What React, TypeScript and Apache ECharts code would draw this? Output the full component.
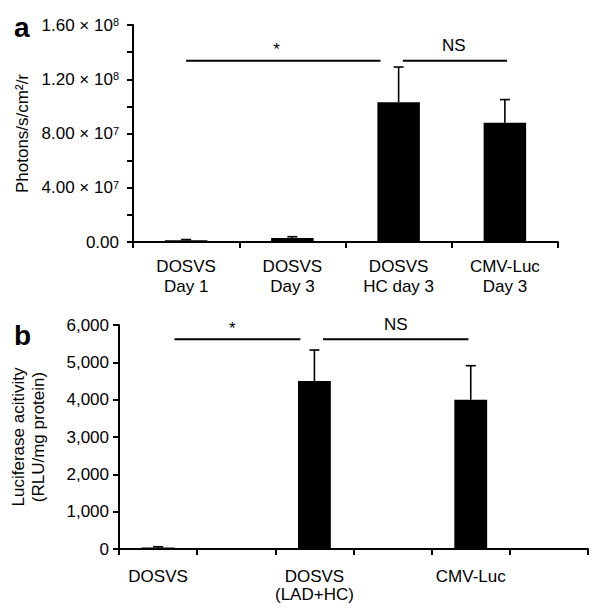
import React, { useEffect, useRef } from "react";
import * as echarts from "echarts";

const FONT = "Liberation Sans, Arial, Helvetica, sans-serif";

// Panel a
const aCategories = ["DOSVS\nDay 1", "DOSVS\nDay 3", "DOSVS\nHC day 3", "CMV-Luc\nDay 3"];
const aMeans = [1.2e6, 3.0e6, 1.03e8, 0.88e8];
const aErrTops = [1.8e6, 3.9e6, 1.29e8, 1.05e8];
const aTickValues = [0, 4e7, 8e7, 1.2e8, 1.6e8];
const aTickMantissa = ["0.00", "4.00", "8.00", "1.20", "1.60"];
const aTickExp = [null, "7", "7", "8", "8"];
const aSigStart = [0, 2.04];
const aSigEnd = [1.83, 3.02];
const aSigY = [1.337e8, 1.337e8];
const aSigLabelX = [0.85, 2.52];
const aSigLabel = ["*", "NS"];

// Panel b
const bCategories = ["DOSVS", "", "DOSVS\n(LAD+HC)", "", "CMV-Luc", ""];
const bMeans = [40, null, 4500, null, 4000, null];
const bErrTops = [60, null, 5330, null, 4910, null];
const bSigStart = [0.21, 2.11];
const bSigEnd = [1.82, 3.97];
const bSigY = [5620, 5620];
const bSigLabelX = [0.95, 3.04];
const bSigLabel = ["*", "NS"];

function errorRender(params: any, api: any) {
  const x = api.value(0);
  const top = api.coord([x, api.value(2)]);
  const base = api.coord([x, api.value(1)]);
  const style = { stroke: "#000", lineWidth: 1.6 };
  return {
    type: "group",
    children: [
      { type: "line", shape: { x1: base[0], y1: base[1], x2: top[0], y2: top[1] }, style },
      { type: "line", shape: { x1: top[0] - 5, y1: top[1], x2: top[0] + 5, y2: top[1] }, style },
    ],
  };
}

function sigRender(labels: string[], labelXs: number[]) {
  return (params: any, api: any) => {
    const i = params.dataIndex;
    const p0 = api.coord([api.value(0), api.value(2)]);
    const p1 = api.coord([api.value(1), api.value(2)]);
    const pt = api.coord([labelXs[i], api.value(2)]);
    const lab = labels[i];
    const dy = lab === "*" ? 11 : 15;
    return {
      type: "group",
      children: [
        { type: "line", shape: { x1: p0[0], y1: p0[1], x2: p1[0], y2: p1[1] }, style: { stroke: "#000", lineWidth: 2 } },
        {
          type: "text",
          x: pt[0],
          y: pt[1] - dy,
          style: { text: lab, fontSize: 17, fontFamily: FONT, fill: "#000", align: "center", verticalAlign: "middle" },
        },
      ],
    };
  };
}

export default function App() {
  const ref = useRef<HTMLDivElement>(null);
  useEffect(() => {
    if (!ref.current) return;
    const chart = echarts.init(ref.current, undefined, { renderer: "svg" });
    const axisLine = { show: true, onZero: false, lineStyle: { color: "#000", width: 2 } };
    const axisTick = { show: true, length: 6, inside: false, lineStyle: { color: "#000", width: 2 } };
    const labelStyle = { color: "#000", fontSize: 17, fontFamily: FONT };

    const option: any = {
      animation: false,
      textStyle: { fontFamily: FONT },
      grid: [
        { left: 133, right: 42, top: 25, bottom: 369, containLabel: false },
        { left: 117, right: 12, top: 325, bottom: 62, containLabel: false },
      ],
      xAxis: [
        {
          type: "category",
          gridIndex: 0,
          data: aCategories,
          axisLine,
          axisTick: { ...axisTick, interval: 0, alignWithLabel: false },
          axisLabel: { ...labelStyle, interval: 0, margin: 14, lineHeight: 20 },
          splitLine: { show: false },
        },
        { type: "value", gridIndex: 0, min: -0.5, max: 3.5, show: false },
        {
          type: "category",
          gridIndex: 1,
          data: bCategories,
          axisLine,
          axisTick: { ...axisTick, interval: 0, alignWithLabel: false },
          axisLabel: { ...labelStyle, interval: 0, margin: 18, lineHeight: 18 },
          splitLine: { show: false },
        },
        { type: "value", gridIndex: 1, min: -0.5, max: 5.5, show: false },
      ],
      yAxis: [
        {
          type: "value",
          gridIndex: 0,
          min: 0,
          max: 1.6e8,
          interval: 2e7,
          axisLine,
          axisTick,
          splitLine: { show: false },
          name: "Photons/s/cm²/r",
          nameLocation: "middle",
          nameGap: 96,
          nameRotate: 90,
          nameTextStyle: { ...labelStyle },
          axisLabel: {
            margin: 14,
            formatter: (v: number) => {
              const i = aTickValues.indexOf(v);
              if (i < 0) return "";
              const e = aTickExp[i];
              return e == null ? `{m|${aTickMantissa[i]}}` : `{m|${aTickMantissa[i]} × 10}{s|${e}}`;
            },
            rich: {
              m: { ...labelStyle, lineHeight: 17 },
              s: { color: "#000", fontSize: 11, fontFamily: FONT, verticalAlign: "top", lineHeight: 11 },
            },
          },
        },
        {
          type: "value",
          gridIndex: 1,
          min: 0,
          max: 6000,
          interval: 1000,
          axisLine,
          axisTick,
          splitLine: { show: false },
          name: "Luciferase acitivity\n(RLU/mg protein)",
          nameLocation: "middle",
          nameGap: 71,
          nameRotate: 90,
          nameTextStyle: { ...labelStyle, lineHeight: 20 },
          axisLabel: { ...labelStyle, margin: 10, formatter: (v: number) => v.toLocaleString("en-US") },
        },
      ],
      graphic: [
        { type: "text", left: 14, top: 13, style: { text: "a", fontSize: 28, fontWeight: "bold", fontFamily: FONT, fill: "#000" } },
        { type: "text", left: 14, top: 321, style: { text: "b", fontSize: 28, fontWeight: "bold", fontFamily: FONT, fill: "#000" } },
      ],
      series: [
        {
          type: "bar",
          xAxisIndex: 0,
          yAxisIndex: 0,
          data: aMeans,
          barWidth: "40%",
          itemStyle: { color: "#000" },
        },
        {
          type: "custom",
          xAxisIndex: 0,
          yAxisIndex: 0,
          renderItem: errorRender,
          encode: { x: 0, y: [1, 2] },
          data: aMeans.map((m, i) => [i, m, aErrTops[i]]),
          z: 3,
        },
        {
          type: "custom",
          xAxisIndex: 1,
          yAxisIndex: 0,
          renderItem: sigRender(aSigLabel, aSigLabelX),
          encode: { x: [0, 1], y: 2 },
          data: aSigStart.map((s, i) => [s, aSigEnd[i], aSigY[i]]),
          clip: false,
        },
        {
          type: "bar",
          xAxisIndex: 2,
          yAxisIndex: 1,
          data: bMeans,
          barWidth: "42%",
          itemStyle: { color: "#000" },
        },
        {
          type: "custom",
          xAxisIndex: 2,
          yAxisIndex: 1,
          renderItem: errorRender,
          encode: { x: 0, y: [1, 2] },
          data: bMeans
            .map((m, i) => [i, m, bErrTops[i]])
            .filter((d) => d[1] != null),
          z: 3,
        },
        {
          type: "custom",
          xAxisIndex: 3,
          yAxisIndex: 1,
          renderItem: sigRender(bSigLabel, bSigLabelX),
          encode: { x: [0, 1], y: 2 },
          data: bSigStart.map((s, i) => [s, bSigEnd[i], bSigY[i]]),
          clip: false,
        },
      ],
    };
    chart.setOption(option);
    return () => chart.dispose();
  }, []);
  return (
    <div
      ref={ref}
      style={{ position: "fixed", left: 0, top: 0, width: 600, height: 611, background: "#fff" }}
    />
  );
}
